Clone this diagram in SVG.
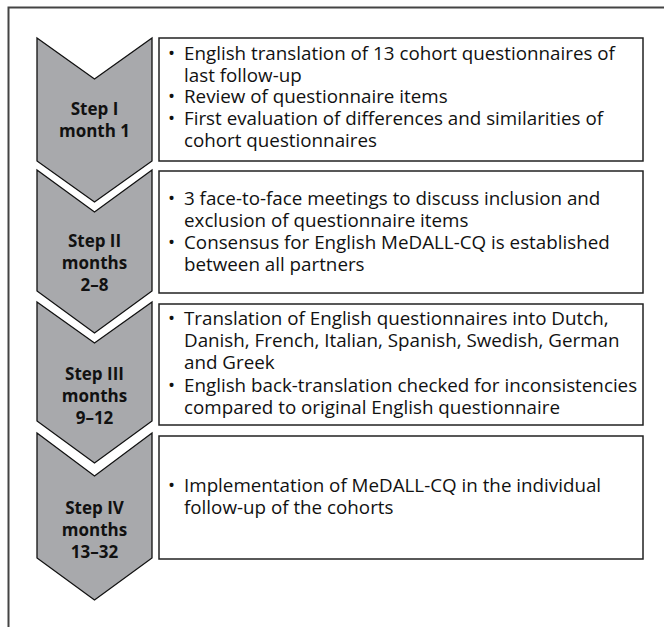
<svg xmlns="http://www.w3.org/2000/svg" width="664" height="627" viewBox="0 0 664 627">
<style>
.chev{fill:#a8a9ac;stroke:#111;stroke-width:1.3;stroke-linejoin:miter}
.box{fill:#fff;stroke:#222;stroke-width:1.5}
.lbl{font-family:"Open Sans","Noto Sans",sans-serif;font-weight:bold;font-size:17px;fill:#111;text-anchor:middle}
.txt{font-family:"Open Sans","Noto Sans",sans-serif;font-size:18.8px;fill:#111}
</style>
<rect width="664" height="627" fill="#fff"/>
<path d="M8.5,627 L8.5,7.5 L664,7.5" fill="none" stroke="#444" stroke-width="2"/>
<g id="step1">
<path class="chev" d="M37,38 L94.5,79 L152,38 L152,161 L94.5,202 L37,161 Z"/>
<text class="lbl" x="94.5" y="115">Step I</text>
<text class="lbl" x="94.5" y="137">month 1</text>
</g>
<g id="box1">
<rect class="box" x="159" y="38" width="484" height="123"/>
<text class="txt" x="168" y="60">•</text>
<text class="txt" x="184" y="60">English translation of 13 cohort questionnaires of</text>
<text class="txt" x="184" y="82">last follow-up</text>
<text class="txt" x="168" y="103">•</text>
<text class="txt" x="184" y="103">Review of questionnaire items</text>
<text class="txt" x="168" y="125">•</text>
<text class="txt" x="184" y="125">First evaluation of differences and similarities of</text>
<text class="txt" x="184" y="147">cohort questionnaires</text>
</g>
<g id="step2">
<path class="chev" d="M37,170 L94.5,212 L152,170 L152,291 L94.5,333 L37,291 Z"/>
<text class="lbl" x="94.5" y="247">Step II</text>
<text class="lbl" x="94.5" y="269">months</text>
<text class="lbl" x="94.5" y="291">2–8</text>
</g>
<g id="box2">
<rect class="box" x="159" y="171" width="484" height="122"/>
<text class="txt" x="168" y="205">•</text>
<text class="txt" x="184" y="205">3 face-to-face meetings to discuss inclusion and</text>
<text class="txt" x="184" y="227">exclusion of questionnaire items</text>
<text class="txt" x="168" y="249">•</text>
<text class="txt" x="184" y="249">Consensus for English MeDALL-CQ is established</text>
<text class="txt" x="184" y="271">between all partners</text>
</g>
<g id="step3">
<path class="chev" d="M37,302 L94.5,343 L152,302 L152,421 L94.5,463 L37,421 Z"/>
<text class="lbl" x="94.5" y="380">Step III</text>
<text class="lbl" x="94.5" y="402">months</text>
<text class="lbl" x="94.5" y="424">9–12</text>
</g>
<g id="box3">
<rect class="box" x="159" y="304" width="484" height="121"/>
<text class="txt" x="168" y="325">•</text>
<text class="txt" x="184" y="325">Translation of English questionnaires into Dutch,</text>
<text class="txt" x="184" y="347">Danish, French, Italian, Spanish, Swedish, German</text>
<text class="txt" x="184" y="369">and Greek</text>
<text class="txt" x="168" y="392">•</text>
<text class="txt" x="184" y="392">English back-translation checked for inconsistencies</text>
<text class="txt" x="184" y="414">compared to original English questionnaire</text>
</g>
<g id="step4">
<path class="chev" d="M37,433 L94.5,476 L152,433 L152,558 L94.5,600 L37,558 Z"/>
<text class="lbl" x="94.5" y="514">Step IV</text>
<text class="lbl" x="94.5" y="536">months</text>
<text class="lbl" x="94.5" y="558">13–32</text>
</g>
<g id="box4">
<rect class="box" x="159" y="436" width="484" height="123"/>
<text class="txt" x="168" y="492">•</text>
<text class="txt" x="184" y="492">Implementation of MeDALL-CQ in the individual</text>
<text class="txt" x="184" y="514">follow-up of the cohorts</text>
</g>
<g id="connectors"/>
</svg>
